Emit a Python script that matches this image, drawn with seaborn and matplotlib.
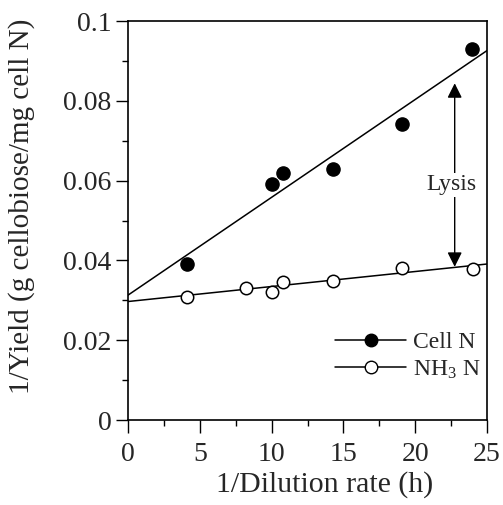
import numpy as np
import pandas as pd
import seaborn as sns
import matplotlib.pyplot as plt
from matplotlib.lines import Line2D
from matplotlib.ticker import MultipleLocator, FuncFormatter

# data
dil_cell = [4.1, 10.05, 10.8, 14.3, 19.05, 23.95]
yield_cell = [0.0391, 0.0591, 0.0618, 0.0629, 0.0742, 0.0929]
dil_nh3 = [4.1, 8.2, 10.05, 10.8, 14.3, 19.05, 24.0]
yield_nh3 = [0.0309, 0.0332, 0.0320, 0.0347, 0.0349, 0.0382, 0.0378]

# fitted lines (end points)
fit_x = [0, 25]
fit_cell = [0.0313, 0.0926]
fit_nh3 = [0.0297, 0.0391]

# lysis arrow
lysis_x = 22.75
lysis_top = 0.0844
lysis_bottom = 0.0384

sns.set_style('ticks')
plt.rcParams['font.family'] = ['Liberation Serif', 'DejaVu Serif']
plt.rcParams['mathtext.fontset'] = 'custom'
plt.rcParams['mathtext.rm'] = 'Liberation Serif'
plt.rcParams['mathtext.default'] = 'regular'
plt.rcParams['axes.edgecolor'] = 'black'
plt.rcParams['axes.linewidth'] = 1.2

df_cell = pd.DataFrame({'x': dil_cell, 'y': yield_cell})
df_nh3 = pd.DataFrame({'x': dil_nh3, 'y': yield_nh3})
df_fit = pd.DataFrame({'x': fit_x * 2,
                       'y': fit_cell + fit_nh3,
                       'series': ['cell'] * 2 + ['nh3'] * 2})

fig = plt.figure(figsize=(5.03, 5.05), dpi=100)
ax = fig.add_axes([0.2545, 0.1683, 0.7137, 0.790])

sns.lineplot(data=df_fit, x='x', y='y', units='series', estimator=None,
             color='black', lw=1.1, ax=ax, legend=False)
sns.scatterplot(data=df_cell, x='x', y='y', color='black', edgecolor='black',
                s=90, linewidth=1, ax=ax, zorder=3)
sns.scatterplot(data=df_nh3, x='x', y='y', color='white', edgecolor='black',
                s=80, linewidth=1.1, ax=ax, zorder=3)

ax.annotate('', xy=(lysis_x, lysis_top), xytext=(lysis_x, lysis_bottom),
            arrowprops=dict(arrowstyle='<|-|>', color='black', lw=1.0,
                            mutation_scale=22, shrinkA=0, shrinkB=0))
ax.text(lysis_x - 0.2, 0.0590, 'Lysis', ha='center', va='center', fontsize=17,
        bbox=dict(facecolor='white', edgecolor='none', pad=1))

ax.set_xlim(0, 25)
ax.set_ylim(0, 0.1)
ax.xaxis.set_major_locator(MultipleLocator(5))
ax.xaxis.set_minor_locator(MultipleLocator(2.5))
ax.yaxis.set_major_locator(MultipleLocator(0.02))
ax.yaxis.set_minor_locator(MultipleLocator(0.01))
ax.yaxis.set_major_formatter(FuncFormatter(lambda v, p: '{:g}'.format(round(v, 3))))
ax.tick_params(which='major', length=9, width=1, labelsize=20, pad=3, color='black')
ax.tick_params(axis='x', which='major', pad=7)
ax.tick_params(which='minor', length=4, width=1, color='black')
for s in ax.spines.values():
    s.set_visible(True)

ax.set_xlabel('1/Dilution rate (h)', fontsize=21.5, labelpad=3, x=0.547)
ax.set_ylabel('1/Yield (g cellobiose/mg cell N)', fontsize=21, labelpad=20, y=0.535)

handles = [
    Line2D([], [], color='black', lw=1.1, marker='o', markersize=9,
           markerfacecolor='black', markeredgecolor='black'),
    Line2D([], [], color='black', lw=1.1, marker='o', markersize=9,
           markerfacecolor='white', markeredgecolor='black'),
]
ax.legend(handles, ['Cell N', 'NH$_3$ N'], loc='center right',
          bbox_to_anchor=(1.042, 0.16), frameon=False, fontsize=17,
          handlelength=3.0, handletextpad=0.3, labelspacing=0.25)

fig.savefig('out.png', dpi=100)
